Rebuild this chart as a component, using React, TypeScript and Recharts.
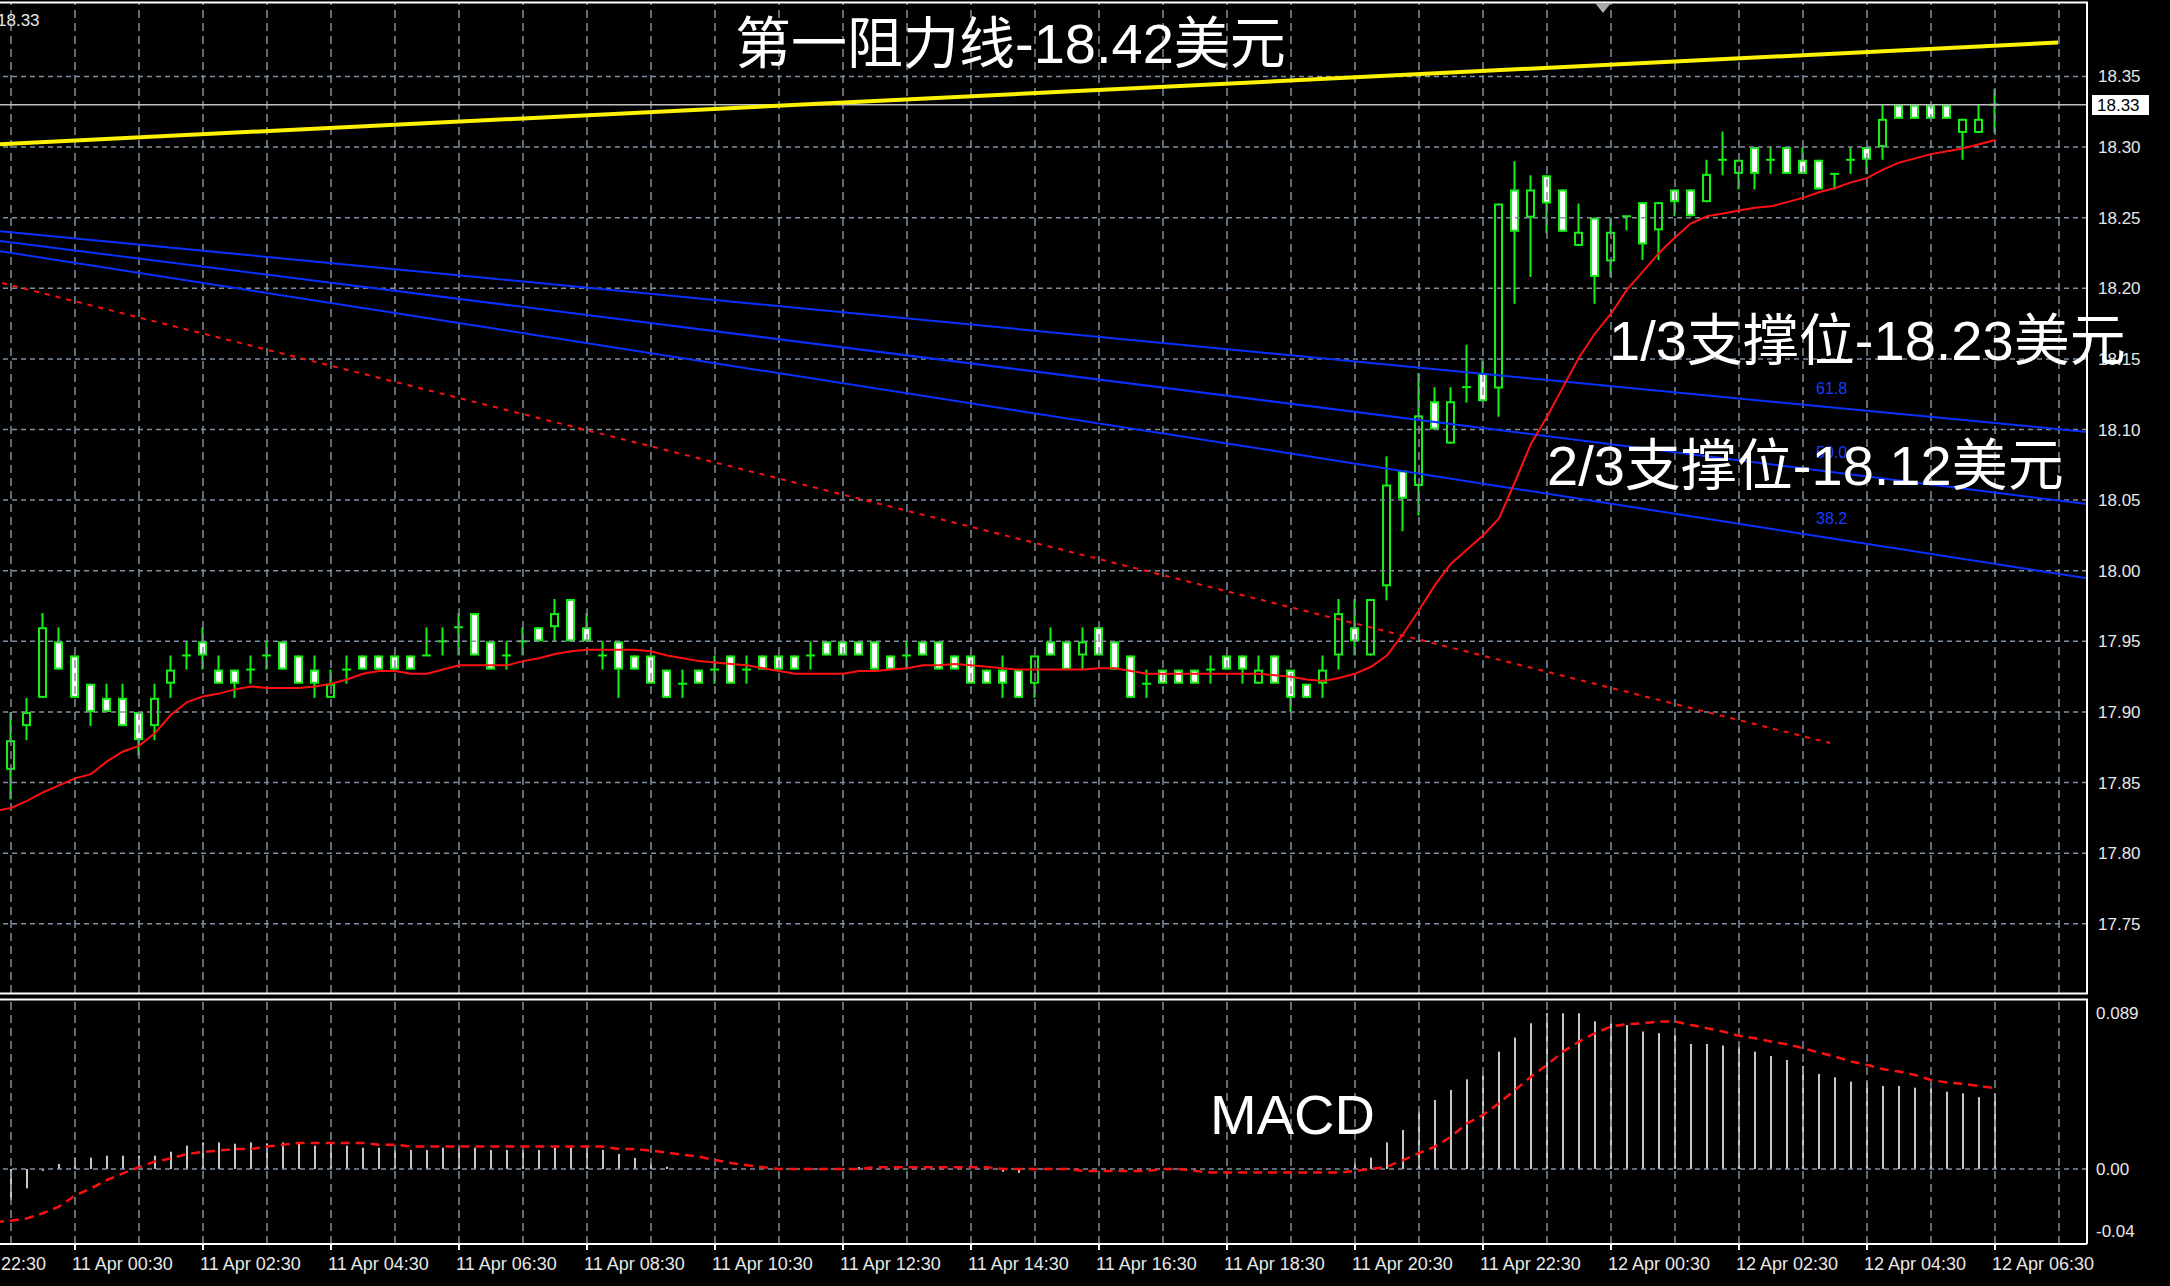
import React from 'react';
import { ComposedChart, Bar, Line, XAxis, YAxis, ReferenceLine } from 'recharts';

// ---------- DATA (M15 bars, index 0 = 10 Apr 23:30, index 124 = 12 Apr 06:30) ----------
const opens = [
  17.859, 17.890, 17.910, 17.950, 17.940, 17.920, 17.910, 17.910, 17.900, 17.890,
  17.920, 17.940, 17.950, 17.930, 17.930, 17.930, 17.940, 17.950, 17.940, 17.930,
  17.910, 17.930, 17.940, 17.940, 17.940, 17.940, 17.940, 17.950, 17.960, 17.970,
  17.950, 17.940, 17.950, 17.960, 17.960, 17.980, 17.960, 17.940, 17.950, 17.940,
  17.940, 17.930, 17.920, 17.930, 17.930, 17.940, 17.930, 17.940, 17.940, 17.940,
  17.940, 17.950, 17.950, 17.950, 17.950, 17.940, 17.940, 17.950, 17.950, 17.940,
  17.940, 17.930, 17.930, 17.930, 17.920, 17.950, 17.950, 17.940, 17.960, 17.950,
  17.940, 17.920, 17.930, 17.930, 17.930, 17.930, 17.940, 17.940, 17.920, 17.940,
  17.930, 17.920, 17.920, 17.940, 17.960, 17.940, 17.989, 18.071, 18.060, 18.120,
  18.090, 18.130, 18.140, 18.129, 18.270, 18.250, 18.280, 18.270, 18.230, 18.250,
  18.219, 18.251, 18.261, 18.241, 18.270, 18.270, 18.261, 18.291, 18.281, 18.300,
  18.291, 18.300, 18.291, 18.291, 18.281, 18.291, 18.300, 18.300, 18.330, 18.330,
  18.330, 18.330, 18.310, 18.310, 18.330,
];
const highs = [
  17.900, 17.910, 17.970, 17.960, 17.940, 17.920, 17.920, 17.920, 17.900, 17.920,
  17.940, 17.950, 17.960, 17.940, 17.930, 17.940, 17.950, 17.950, 17.940, 17.940,
  17.930, 17.940, 17.940, 17.940, 17.940, 17.940, 17.960, 17.960, 17.970, 17.970,
  17.950, 17.950, 17.960, 17.960, 17.980, 17.980, 17.970, 17.950, 17.950, 17.940,
  17.940, 17.930, 17.930, 17.930, 17.940, 17.940, 17.940, 17.940, 17.940, 17.940,
  17.950, 17.950, 17.950, 17.950, 17.950, 17.940, 17.950, 17.950, 17.950, 17.940,
  17.940, 17.930, 17.940, 17.930, 17.940, 17.960, 17.950, 17.960, 17.960, 17.950,
  17.940, 17.930, 17.930, 17.930, 17.930, 17.940, 17.940, 17.940, 17.940, 17.940,
  17.930, 17.920, 17.940, 17.980, 17.980, 17.980, 18.081, 18.071, 18.140, 18.130,
  18.130, 18.160, 18.149, 18.260, 18.290, 18.280, 18.280, 18.270, 18.260, 18.250,
  18.250, 18.251, 18.261, 18.261, 18.270, 18.270, 18.291, 18.311, 18.291, 18.300,
  18.300, 18.300, 18.300, 18.291, 18.281, 18.300, 18.300, 18.330, 18.330, 18.330,
  18.330, 18.330, 18.320, 18.330, 18.341,
];
const lows = [
  17.838, 17.880, 17.910, 17.930, 17.910, 17.890, 17.900, 17.890, 17.869, 17.880,
  17.910, 17.930, 17.930, 17.920, 17.910, 17.920, 17.930, 17.930, 17.920, 17.910,
  17.910, 17.920, 17.930, 17.930, 17.930, 17.930, 17.940, 17.940, 17.940, 17.940,
  17.930, 17.930, 17.940, 17.950, 17.950, 17.950, 17.950, 17.930, 17.910, 17.930,
  17.920, 17.910, 17.910, 17.920, 17.920, 17.920, 17.920, 17.930, 17.930, 17.930,
  17.930, 17.940, 17.940, 17.940, 17.930, 17.930, 17.930, 17.940, 17.930, 17.930,
  17.920, 17.920, 17.910, 17.910, 17.910, 17.940, 17.930, 17.930, 17.940, 17.930,
  17.910, 17.910, 17.920, 17.920, 17.920, 17.920, 17.930, 17.920, 17.920, 17.920,
  17.900, 17.910, 17.910, 17.930, 17.940, 17.940, 17.979, 18.028, 18.039, 18.100,
  18.090, 18.119, 18.120, 18.109, 18.189, 18.208, 18.239, 18.240, 18.230, 18.189,
  18.208, 18.241, 18.220, 18.220, 18.251, 18.251, 18.261, 18.280, 18.270, 18.270,
  18.281, 18.281, 18.281, 18.270, 18.270, 18.281, 18.281, 18.291, 18.320, 18.320,
  18.320, 18.320, 18.291, 18.310, 18.310,
];
const closes = [
  17.880, 17.900, 17.960, 17.930, 17.910, 17.900, 17.900, 17.890, 17.880, 17.910,
  17.930, 17.940, 17.940, 17.920, 17.920, 17.930, 17.940, 17.930, 17.920, 17.920,
  17.920, 17.930, 17.930, 17.930, 17.930, 17.930, 17.940, 17.950, 17.960, 17.940,
  17.930, 17.940, 17.950, 17.950, 17.970, 17.950, 17.950, 17.940, 17.930, 17.930,
  17.920, 17.910, 17.920, 17.920, 17.930, 17.920, 17.930, 17.930, 17.930, 17.930,
  17.940, 17.940, 17.940, 17.940, 17.930, 17.930, 17.940, 17.940, 17.930, 17.930,
  17.920, 17.920, 17.920, 17.910, 17.940, 17.940, 17.930, 17.950, 17.940, 17.930,
  17.910, 17.920, 17.920, 17.920, 17.920, 17.930, 17.930, 17.930, 17.930, 17.920,
  17.910, 17.910, 17.930, 17.970, 17.950, 17.980, 18.061, 18.051, 18.110, 18.100,
  18.120, 18.130, 18.120, 18.260, 18.240, 18.270, 18.260, 18.240, 18.240, 18.208,
  18.240, 18.251, 18.231, 18.261, 18.261, 18.251, 18.281, 18.291, 18.291, 18.281,
  18.291, 18.281, 18.281, 18.270, 18.281, 18.291, 18.291, 18.320, 18.320, 18.320,
  18.320, 18.320, 18.320, 18.320, 18.330,
];
// moving average, index -1 .. 124
const maValues = [
  17.830,
  17.832, 17.837, 17.843, 17.848, 17.853, 17.856, 17.865, 17.872, 17.876, 17.885,
  17.898, 17.907, 17.911, 17.913, 17.916, 17.918, 17.917, 17.917, 17.917, 17.918,
  17.920, 17.923, 17.927, 17.929, 17.929, 17.927, 17.927, 17.930, 17.933, 17.933,
  17.933, 17.933, 17.936, 17.938, 17.941, 17.943, 17.944, 17.944, 17.944, 17.944,
  17.943, 17.940, 17.938, 17.936, 17.935, 17.934, 17.933, 17.931, 17.929, 17.927,
  17.927, 17.927, 17.927, 17.929, 17.929, 17.930, 17.931, 17.933, 17.933, 17.934,
  17.933, 17.932, 17.931, 17.930, 17.930, 17.930, 17.930, 17.930, 17.931, 17.931,
  17.929, 17.927, 17.927, 17.927, 17.927, 17.927, 17.927, 17.927, 17.927, 17.926,
  17.925, 17.923, 17.922, 17.924, 17.927, 17.932, 17.940, 17.955, 17.972, 17.990,
  18.005, 18.015, 18.025, 18.037, 18.063, 18.090, 18.109, 18.130, 18.151, 18.168,
  18.182, 18.199, 18.212, 18.225, 18.236, 18.246, 18.251, 18.253, 18.255, 18.257,
  18.258, 18.261, 18.264, 18.268, 18.271, 18.275, 18.278, 18.284, 18.289, 18.292,
  18.295, 18.297, 18.299, 18.302, 18.305,
];
// MACD histogram, index -1 .. 124
const macdHist = [
  -0.022,
  -0.0163, -0.0102, -0.001, 0.0026, 0.006, 0.006, 0.007, 0.007, 0.007, 0.007,
  0.0091, 0.0123, 0.014, 0.014, 0.0133, 0.014, 0.0135, 0.014, 0.0135, 0.0123,
  0.0135, 0.0123, 0.0112, 0.0112, 0.010, 0.010, 0.010, 0.0112, 0.0112, 0.0112,
  0.010, 0.010, 0.010, 0.010, 0.0112, 0.0112, 0.0112, 0.010, 0.0079, 0.0058,
  0.003, 0.0012, 0, 0, 0, 0, 0, 0, 0, 0,
  0, 0, 0, 0.001, 0, 0, 0, 0, 0, 0,
  0, 0, -0.0015, -0.002, 0, 0, 0, 0, 0, 0,
  0, 0, 0, 0, -0.0012, 0, 0, 0, 0, 0,
  0, 0, 0, 0, 0.003, 0.006, 0.014, 0.0205, 0.0302, 0.0363,
  0.0416, 0.0472, 0.0493, 0.0618, 0.0692, 0.0767, 0.082, 0.082, 0.082, 0.0777,
  0.0767, 0.0758, 0.0724, 0.0715, 0.0706, 0.0658, 0.0658, 0.065, 0.0644, 0.0618,
  0.0595, 0.0574, 0.0542, 0.050, 0.0483, 0.046, 0.046, 0.0437, 0.0437, 0.0428,
  0.0425, 0.0407, 0.0398, 0.0378, 0.0398,
];
// MACD signal, index -1 .. 124
const macdSignal = [
  -0.028,
  -0.0272, -0.026, -0.0233, -0.0198, -0.014, -0.0102, -0.0058, -0.0023, 0.001, 0.0039,
  0.0056, 0.0079, 0.009, 0.0097, 0.0105, 0.0105, 0.0118, 0.0128, 0.0137, 0.0137,
  0.0137, 0.0137, 0.0137, 0.0128, 0.0128, 0.0118, 0.0118, 0.0118, 0.0118, 0.0118,
  0.0118, 0.0118, 0.0118, 0.0118, 0.0118, 0.0118, 0.0118, 0.0118, 0.0105, 0.0105,
  0.0097, 0.0086, 0.0075, 0.0065, 0.0047, 0.0032, 0.002, 0.0009, 0, 0,
  0, 0, 0, 0, 0.0009, 0.0009, 0.0009, 0.0009, 0.0009, 0.0009,
  0.0009, 0.0009, 0, 0, 0, 0, 0, -0.001, -0.001, -0.001,
  -0.001, -0.001, 0, 0, -0.001, -0.0019, -0.0019, -0.0019, -0.0019, -0.0019,
  -0.0019, -0.0019, -0.0019, -0.0019, -0.001, 0, 0.0012, 0.0047, 0.0083, 0.0118,
  0.017, 0.024, 0.0284, 0.0346, 0.0416, 0.0486, 0.0548, 0.0618, 0.0671, 0.0715,
  0.075, 0.0763, 0.0767, 0.0777, 0.0777, 0.0758, 0.0741, 0.0724, 0.0701, 0.0688,
  0.0671, 0.0657, 0.0636, 0.0613, 0.0592, 0.0566, 0.0548, 0.0525, 0.0513, 0.0495,
  0.0469, 0.0455, 0.0448, 0.0437, 0.0425,
];

const priceTicks = [18.35, 18.30, 18.25, 18.20, 18.15, 18.10, 18.05, 18.00, 17.95, 17.90, 17.85, 17.80, 17.75];
const macdTicks = [0.089, 0, -0.0395];
const macdTickLabels = ['0.089', '0.00', '-0.04'];
const timeTickIdx = [-4, 4, 12, 20, 28, 36, 44, 52, 60, 68, 76, 84, 92, 100, 108, 116, 124];
const timeLabels = [
  '10 Apr 22:30', '11 Apr 00:30', '11 Apr 02:30', '11 Apr 04:30', '11 Apr 06:30', '11 Apr 08:30',
  '11 Apr 10:30', '11 Apr 12:30', '11 Apr 14:30', '11 Apr 16:30', '11 Apr 18:30', '11 Apr 20:30',
  '11 Apr 22:30', '12 Apr 00:30', '12 Apr 02:30', '12 Apr 04:30', '12 Apr 06:30',
];
const gridIdx = [0, 4, 8, 12, 16, 20, 24, 28, 32, 36, 40, 44, 48, 52, 56, 60, 64, 68, 72, 76, 80, 84, 88, 92, 96, 100, 104, 108, 112, 116, 120, 124, 128];
const currentPrice = 18.33;

// drawn objects (index, price)
const resistanceLine = [{ x: -0.6875, y: 18.302 }, { x: 127.94, y: 18.374 }];
const fibLines = [
  [{ x: -0.6875, y: 18.2404 }, { x: 129.75, y: 18.0983 }],
  [{ x: -0.6875, y: 18.2334 }, { x: 129.75, y: 18.0472 }],
  [{ x: -0.6875, y: 18.2263 }, { x: 129.75, y: 17.9946 }],
];
const redTrend = [{ x: -0.55, y: 18.2037 }, { x: 113.69, y: 17.878 }];

const X_DOMAIN: [number, number] = [-4, 129.75];
const P_DOMAIN: [number, number] = [17.701, 18.402];
const M_DOMAIN: [number, number] = [-0.0395, 0.0895];

const mainData = maValues.map((m, k) => {
  const i = k - 1;
  if (i < 0) return { i, ma: m };
  return { i, ma: m, range: [lows[i], highs[i]], open: opens[i], high: highs[i], low: lows[i], close: closes[i] };
});
const macdData = macdHist.map((h, k) => ({ i: k - 1, hist: h, sig: macdSignal[k] }));

const GREEN = '#14f014';
const GRID = '#7f8fa0';
const LATIN = "'Liberation Sans', Arial, sans-serif";
const MIXED = "'Liberation Sans', 'Noto Sans CJK SC', sans-serif";

const Candle = (props: any) => {
  const { x, y, width, height, payload } = props;
  if (!payload || payload.open == null || x == null) return null;
  const cx = x + width / 2;
  const top = Math.min(y, y + height);
  const h = Math.abs(height);
  const span = payload.high - payload.low;
  const py = (v: number) => (span === 0 ? top : top + ((payload.high - v) / span) * h);
  const yO = py(payload.open);
  const yC = py(payload.close);
  const bTop = Math.min(yO, yC);
  const bBot = Math.max(yO, yC);
  const bull = payload.close > payload.open;
  return (
    <g>
      <line x1={cx} x2={cx} y1={top} y2={top + h} stroke={GREEN} strokeWidth={2} />
      {bBot - bTop < 2.5 ? (
        <line x1={cx - 4.5} x2={cx + 4.5} y1={yO} y2={yO} stroke={GREEN} strokeWidth={2} />
      ) : (
        <rect x={cx - 3.5} y={bTop + 1} width={7} height={bBot - bTop - 2} fill={bull ? '#000' : '#fff'} stroke={GREEN} strokeWidth={2} />
      )}
    </g>
  );
};

const HistBar = (props: any) => {
  const { x, y, width, height } = props;
  if (x == null || height == null) return null;
  const hh = Math.abs(height);
  if (hh < 0.5) return null;
  const cx = x + width / 2;
  return <rect x={cx - 1} y={Math.min(y, y + height)} width={2} height={hh} fill="#c8c8c8" />;
};

const PriceTick = (props: any) => {
  const { y, payload } = props;
  return (
    <text x={2098} y={y + 6} fill="#e8e8e8" fontSize={17} fontFamily={LATIN}>
      {Number(payload.value).toFixed(2)}
    </text>
  );
};

const MacdTick = (props: any) => {
  const { y, index } = props;
  const off = [19, 6, -7][index] ?? 6;
  return (
    <text x={2096} y={y + off} fill="#e8e8e8" fontSize={17} fontFamily={LATIN}>
      {macdTickLabels[index]}
    </text>
  );
};

const TimeTick = (props: any) => {
  const { x, payload } = props;
  const k = timeTickIdx.indexOf(payload.value);
  return (
    <text x={x - 3} y={274} fill="#e8e8e8" fontSize={18} fontFamily={LATIN}>
      {timeLabels[k]}
    </text>
  );
};

export default function App() {
  return (
    <div style={{ position: 'absolute', left: 0, top: 0, width: 2170, height: 1286, background: '#000', overflow: 'hidden' }}>
      <div style={{ position: 'absolute', left: 0, top: 0 }}>
        <ComposedChart width={2170} height={996} data={mainData} margin={{ top: 3, right: 0, bottom: 3, left: -53 }}>
          <XAxis dataKey="i" type="number" domain={X_DOMAIN} allowDataOverflow hide />
          <YAxis
            orientation="right"
            width={83}
            type="number"
            domain={P_DOMAIN}
            allowDataOverflow
            ticks={priceTicks}
            interval={0}
            tickLine={false}
            axisLine={{ stroke: '#ffffff', strokeWidth: 2 }}
            tick={<PriceTick />}
          />
          {priceTicks.map((p) => (
            <ReferenceLine key={'h' + p} y={p} stroke={GRID} strokeWidth={1.5} strokeDasharray="5 4" ifOverflow="hidden" />
          ))}
          {gridIdx.map((g) => (
            <ReferenceLine key={'v' + g} x={g} stroke={GRID} strokeWidth={1.5} strokeDasharray="8 5" ifOverflow="hidden" />
          ))}
          <ReferenceLine y={currentPrice} stroke="#c0c0c0" strokeWidth={1.5} ifOverflow="hidden" />
          <Bar dataKey="range" barSize={9} shape={<Candle />} isAnimationActive={false} />
          {fibLines.map((seg, k) => (
            <ReferenceLine key={'f' + k} segment={seg} stroke="#0a30ff" strokeWidth={2} ifOverflow="hidden" />
          ))}
          <ReferenceLine segment={redTrend} stroke="#ff1010" strokeWidth={2} strokeDasharray="5 6" ifOverflow="hidden" />
          <ReferenceLine segment={resistanceLine} stroke="#fff200" strokeWidth={4} ifOverflow="hidden" />
          <Line dataKey="ma" type="linear" stroke="#ff1010" strokeWidth={2} dot={false} activeDot={false} isAnimationActive={false} />
        </ComposedChart>
      </div>
      <div style={{ position: 'absolute', left: 0, top: 996 }}>
        <ComposedChart width={2170} height={290} data={macdData} margin={{ top: 3, right: 0, bottom: 0, left: -53 }}>
          <XAxis
            dataKey="i"
            type="number"
            domain={X_DOMAIN}
            allowDataOverflow
            ticks={timeTickIdx}
            interval={0}
            height={42}
            tickSize={6}
            tickLine={{ stroke: '#ffffff', strokeWidth: 2 }}
            axisLine={{ stroke: '#ffffff', strokeWidth: 2 }}
            tick={<TimeTick />}
          />
          <YAxis
            orientation="right"
            width={83}
            type="number"
            domain={M_DOMAIN}
            allowDataOverflow
            ticks={macdTicks}
            interval={0}
            tickLine={false}
            axisLine={{ stroke: '#ffffff', strokeWidth: 2 }}
            tick={<MacdTick />}
          />
          {gridIdx.map((g) => (
            <ReferenceLine key={'mv' + g} x={g} stroke={GRID} strokeWidth={1.5} strokeDasharray="8 5" ifOverflow="hidden" />
          ))}
          <ReferenceLine y={0} stroke={GRID} strokeWidth={1.5} strokeDasharray="5 4" ifOverflow="hidden" />
          <Bar dataKey="hist" barSize={2} shape={<HistBar />} isAnimationActive={false} />
          <Line dataKey="sig" type="linear" stroke="#ff1010" strokeWidth={2.5} strokeDasharray="9 6" dot={false} activeDot={false} isAnimationActive={false} />
        </ComposedChart>
      </div>
      <svg width={2170} height={1286} style={{ position: 'absolute', left: 0, top: 0, pointerEvents: 'none' }}>
        <line x1={0} x2={2088} y1={2.5} y2={2.5} stroke="#ffffff" strokeWidth={2} />
        <line x1={0} x2={2088} y1={993.5} y2={993.5} stroke="#ffffff" strokeWidth={2} />
        <line x1={0} x2={2088} y1={999.5} y2={999.5} stroke="#ffffff" strokeWidth={2} />
        <polygon points="1595,3 1611,3 1603,13" fill="#a8a8a8" />
        <text x={-3} y={26} fill="#e8e8e8" fontSize={17} fontFamily={LATIN}>18.33</text>
        <rect x={2092} y={95} width={57} height={20} fill="#ffffff" />
        <text x={2097} y={111} fill="#000000" fontSize={17} fontFamily={LATIN}>18.33</text>
        <text x={1816} y={394} fill="#1a3cff" fontSize={16} fontFamily={LATIN}>61.8</text>
        <text x={1816} y={458} fill="#1a3cff" fontSize={16} fontFamily={LATIN}>50.0</text>
        <text x={1816} y={524} fill="#1a3cff" fontSize={16} fontFamily={LATIN}>38.2</text>
        <text x={735} y={63} fill="#ffffff" fontSize={56} fontFamily={MIXED}>第一阻力线-18.42美元</text>
        <text x={1609} y={360} fill="#ffffff" fontSize={56} fontFamily={MIXED}>1/3支撑位-18.23美元</text>
        <text x={1547} y={485} fill="#ffffff" fontSize={56} fontFamily={MIXED}>2/3支撑位-18.12美元</text>
        <text x={1210} y={1134} fill="#ffffff" fontSize={56} fontFamily={MIXED}>MACD</text>
      </svg>
    </div>
  );
}
